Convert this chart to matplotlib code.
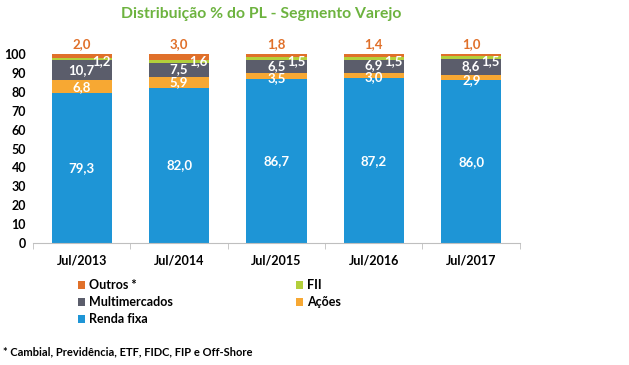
import matplotlib
matplotlib.use("Agg")
import matplotlib.pyplot as plt
import numpy as np

plt.rcParams['font.family'] = ['Lato', 'DejaVu Sans']
plt.rcParams['font.weight'] = 'bold'

periodos = ['Jul/2013', 'Jul/2014', 'Jul/2015', 'Jul/2016', 'Jul/2017']
renda_fixa = [79.3, 82.0, 86.7, 87.2, 86.0]
acoes = [6.8, 5.9, 3.5, 3.0, 2.9]
multimercados = [10.7, 7.5, 6.5, 6.9, 8.6]
fii = [1.2, 1.6, 1.5, 1.5, 1.5]
outros = [2.0, 3.0, 1.8, 1.4, 1.0]

c_rf = '#1E95D6'
c_ac = '#F7A833'
c_mm = '#5B5D6B'
c_fii = '#B3CF3B'
c_out = '#E0702A'

def fmt(v):
    return f'{v:.1f}'.replace('.', ',')

fig = plt.figure(figsize=(6.29, 3.65), dpi=100)
ax = fig.add_axes([0.0525, 0.334, 0.774, 0.518])

x = np.arange(len(periodos))
w = 0.62
b1 = np.array(renda_fixa)
b2 = b1 + np.array(acoes)
b3 = b2 + np.array(multimercados)
b4 = b3 + np.array(fii)

h_rf = ax.bar(x, renda_fixa, w, color=c_rf, label='Renda fixa')
h_ac = ax.bar(x, acoes, w, bottom=b1, color=c_ac, label='Ações')
h_mm = ax.bar(x, multimercados, w, bottom=b2, color=c_mm, label='Multimercados')
h_fii = ax.bar(x, fii, w, bottom=b3, color=c_fii, label='FII')
h_out = ax.bar(x, outros, w, bottom=b4, color=c_out, label='Outros *')

fs = 9.5
for i in range(len(periodos)):
    ax.text(x[i], b1[i] / 2, fmt(renda_fixa[i]), color='white', ha='center', va='center', fontsize=fs)
    # small segments: label sits near the bottom edge, as in the original
    if acoes[i] >= 4:
        ya = b1[i] + acoes[i] / 2
    else:
        ya = b1[i] + 0.4
    ax.text(x[i], ya, fmt(acoes[i]), color='white', ha='center', va='center', fontsize=fs)
    ax.text(x[i], b2[i] + multimercados[i] / 2 + 0.3, fmt(multimercados[i]), color='white', ha='center', va='center', fontsize=fs)
    ax.text(x[i] + 0.2, 96.3, fmt(fii[i]), color='white', ha='center', va='center', fontsize=fs)
    ax.text(x[i], 105.5, fmt(outros[i]), color=c_out, ha='center', va='center', fontsize=fs)

ax.set_xlim(-0.5, 4.5)
ax.set_ylim(0, 100)
ax.set_yticks(range(0, 101, 10))
ax.set_xticks(x)
ax.set_xticklabels(periodos)
ax.set_xticks(np.arange(-0.5, 5, 1), minor=True)
ax.tick_params(axis='x', which='major', length=0, pad=8, labelsize=9)
ax.tick_params(axis='x', which='minor', length=4, color='#BFBFBF')
ax.tick_params(axis='y', length=0, labelsize=9, pad=5)
for s in ['top', 'right', 'left']:
    ax.spines[s].set_visible(False)
ax.spines['bottom'].set_color('#BFBFBF')

fig.text(0.415, 0.962, 'Distribuição % do PL - Segmento Varejo', color='#6DB33F',
         ha='center', va='center', fontsize=11.3, fontweight='bold')

fig.legend(handles=[h_out, h_mm, h_rf, h_fii, h_ac], ncol=2, loc='upper left',
           bbox_to_anchor=(0.114, 0.252), frameon=False, fontsize=9,
           handlelength=0.6, handleheight=0.6, handletextpad=0.3,
           columnspacing=9.8, labelspacing=0.4, borderpad=0)

fig.text(0.005, 0.035, '* Cambial, Previdência, ETF, FIDC, FIP e Off-Shore', fontsize=8,
         ha='left', va='center', fontweight='bold')

fig.savefig('out.png', dpi=100)
